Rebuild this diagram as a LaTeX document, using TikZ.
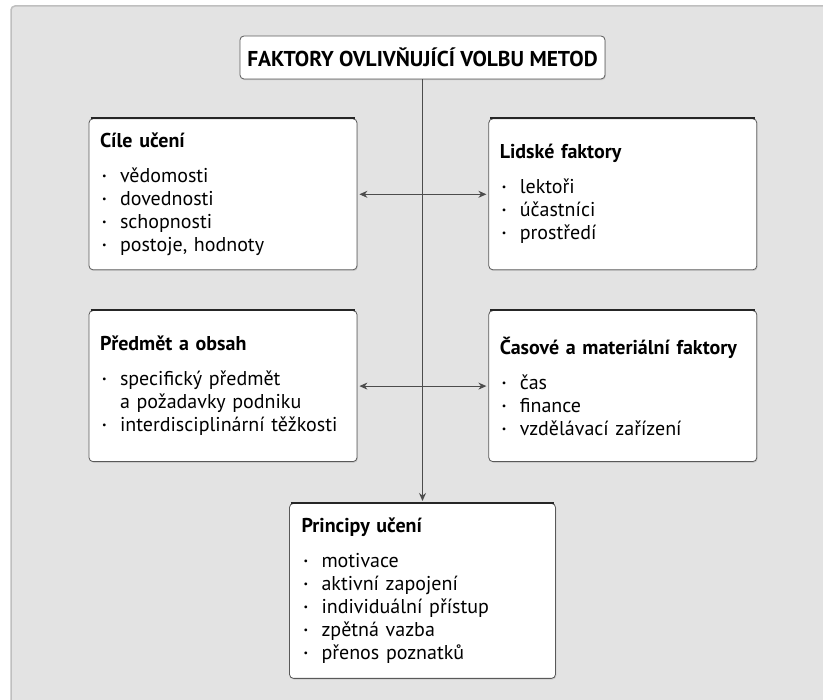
\documentclass[tikz,border=0pt]{standalone}
\usepackage{fontspec}
\setmainfont{PT Sans}
\usetikzlibrary{arrows.meta, graphs, positioning, shadows}

\tikzset{
  factor/.style={draw=black!65, fill=white, rounded corners=4pt, line width=0.8pt,
    minimum width=268pt, minimum height=151pt, text width=246pt, inner xsep=11pt,
    align=left, font=\fontsize{20}{23}\selectfont,
    drop shadow={shadow xshift=0.8pt, shadow yshift=-1.2pt, fill=black!30}},
  headline/.style={line width=2.2pt, black!85},
  gap/.style={shorten <=2pt, shorten >=2pt},
}
\newcommand{\itm}{\makebox[20pt][l]{\hspace{2pt}\raisebox{0.3ex}{\fontsize{10}{10}\selectfont •}}}
\newcommand{\hd}[1]{\textbf{#1}\\[12pt]}

\begin{document}
\begin{tikzpicture}[x=1pt, y=-1pt, >={Stealth[length=8pt, width=7pt]}, line width=0.9pt]
    \useasboundingbox (0,0) rectangle (823,700);
    \begin{scope}
        \clip (0,0) rectangle (823,700);
        \fill[black!11] (11,6) [rounded corners=4pt] rectangle (840,720);
        \draw[black!25, line width=1.5pt, rounded corners=4pt] (840,6) -- (11,6) -- (11,720);
    \end{scope}

    \node[draw=black!65, fill=white, rounded corners=4pt, line width=0.8pt,
          minimum width=365pt, minimum height=43pt, font=\fontsize{21.5}{24}\selectfont\bfseries,
          drop shadow={shadow xshift=0.8pt, shadow yshift=-1.2pt, fill=black!30}]
          (title) at (422.5,57.5) {FAKTORY OVLIVŇUJÍCÍ VOLBU METOD};

    \node[factor, below=39pt of title, xshift=-199.5pt] (cile)
        {\hd{Cíle učení}\itm vědomosti\\ \itm dovednosti\\ \itm schopnosti\\ \itm postoje, hodnoty};
    \node[factor, right=131pt of cile] (lidske)
        {\hd{Lidské faktory}\itm lektoři\\ \itm účastníci\\ \itm prostředí};

    \node[factor, below=40pt of cile] (predmet)
        {\hd{Předmět a obsah}\itm specifický předmět\\ \hspace*{20pt}a požadavky podniku\\ \itm interdisciplinární těžkosti};
    \node[factor, right=131pt of predmet] (casove)
        {\hd{Časové a materiální faktory}\itm čas\\ \itm finance\\ \itm vzdělávací zařízení};

    \node[factor, minimum width=266pt, minimum height=175pt, text width=242pt,
          inner xsep=12pt, below=41pt of predmet, xshift=199.5pt] (principy)
        {\hd{Principy učení}\itm motivace\\ \itm aktivní zapojení\\ \itm individuální přístup\\ \itm zpětná vazba\\ \itm přenos poznatků};

    \foreach \n in {cile, lidske, predmet, casove, principy}
        \draw[headline] ([xshift=2pt]\n.north west) -- ([xshift=-2pt]\n.north east);

    \graph[edges={black!70}]{
        (title) ->[shorten >=2pt] (principy);
        (cile) <->[gap] (lidske);
        (predmet) <->[gap] (casove);
    };
\end{tikzpicture}
\end{document}
